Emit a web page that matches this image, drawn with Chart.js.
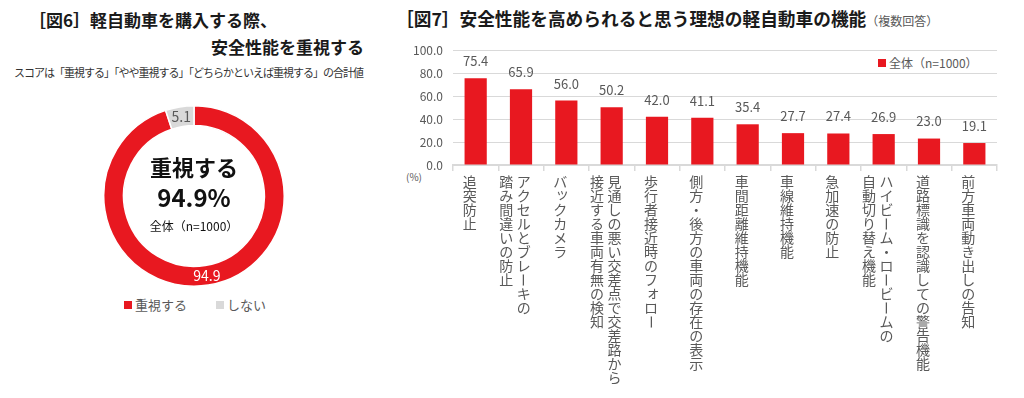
<!DOCTYPE html>
<html lang="ja">
<head>
<meta charset="utf-8">
<script src="https://cdn.jsdelivr.net/npm/chart.js@4.4.1/dist/chart.umd.min.js"></script>
<style>
  body { margin: 0; width: 1024px; height: 398px; background: #fff; position: relative; overflow: hidden;
         font-family: "Noto Sans CJK JP", sans-serif; color: #595959; }
  .t { position: absolute; white-space: nowrap; line-height: 20px; }
  .ttl { font-size: 17px; font-weight: bold; color: #1a1a1a; }
  .sq { display: inline-block; width: 8px; height: 8px; margin-right: 3px; vertical-align: 1px; }
  #ring { position: absolute; left: 103px; top: 105px; }
  #bars { position: absolute; left: 400px; top: 0; }
</style>
</head>
<body>
<!-- 図6 -->
<div class="t ttl" style="left:29px;top:10px">［図6］軽自動車を購入する際、</div>
<div class="t ttl" style="right:660px;top:37px">安全性能を重視する</div>
<div class="t" style="left:14px;top:62px;font-size:11px;letter-spacing:-1px;color:#333">スコアは「重視する」「やや重視する」「どちらかといえば重視する」の合計値</div>
<div class="t" style="left:124px;top:295px;font-size:13px"><span class="sq" style="background:#e81820"></span>重視する</div>
<div class="t" style="left:216px;top:295px;font-size:13px"><span class="sq" style="background:#d9d9d9"></span>しない</div>
<canvas id="ring" width="182" height="182"></canvas>

<!-- 図7 -->
<div class="t ttl" style="left:396px;top:8px;font-size:17.7px">［図7］安全性能を高められると思う理想の軽自動車の機能<span style="font-size:12px;font-weight:normal;color:#595959">（複数回答）</span></div>
<div class="t" style="left:878px;top:53px;font-size:12px"><span class="sq" style="background:#e81820"></span>全体（n=1000）</div>
<div class="t" style="left:406px;top:167px;font-size:10px">(%)</div>
<canvas id="bars" width="624" height="398"></canvas>

<script>
// ── data ──
const ringLabels = ['重視する', 'しない'];
const ringValues = [94.9, 5.1];
const ringColors = ['#e81820', '#d9d9d9'];

const categories = [
  ['追突防止'],
  ['アクセルとブレーキの', '踏み間違いの防止'],
  ['バックカメラ'],
  ['見通しの悪い交差点で交差路から', '接近する車両有無の検知'],
  ['歩行者接近時のフォロー'],
  ['側方・後方の車両の存在の表示'],
  ['車間距離維持機能'],
  ['車線維持機能'],
  ['急加速の防止'],
  ['ハイビーム・ロービームの', '自動切り替え機能'],
  ['道路標識を認識しての警告機能'],
  ['前方車両動き出しの告知']
];
const values = [75.4, 65.9, 56.0, 50.2, 42.0, 41.1, 35.4, 27.7, 27.4, 26.9, 23.0, 19.1];
const yTicks = [0, 20, 40, 60, 80, 100];

const FONT = '"Noto Sans CJK JP", sans-serif';
const GREY = '#595959';

// ── 図6 doughnut ──
const ringText = {
  id: 'ringText',
  afterDraw(chart) {
    const ctx = chart.ctx, a = chart.chartArea;
    const cx = (a.left + a.right) / 2, cy = (a.top + a.bottom) / 2;
    ctx.save();
    ctx.textAlign = 'center'; ctx.textBaseline = 'middle';
    ctx.fillStyle = '#111';
    ctx.font = 'bold 22px ' + FONT;
    ctx.fillText('重視する', cx, cy - 28);
    ctx.font = 'bold 24px ' + FONT;
    ctx.fillText(ringValues[0].toFixed(1) + '%', cx, cy + 2);
    ctx.font = '12px ' + FONT;
    ctx.fillText('全体（n=1000）', cx, cy + 30);
    // slice values
    ctx.font = '14px ' + FONT;
    chart.getDatasetMeta(0).data.forEach((arc, i) => {
      const p = arc.tooltipPosition();
      ctx.fillStyle = i === 0 ? '#fff' : GREY;
      ctx.fillText(ringValues[i].toFixed(1), p.x, p.y);
    });
    ctx.restore();
  }
};

new Chart(document.getElementById('ring'), {
  type: 'doughnut',
  data: {
    labels: ringLabels,
    datasets: [{ data: ringValues, backgroundColor: ringColors, borderColor: '#fff', borderWidth: 1.5 }]
  },
  options: {
    responsive: false, animation: false, cutout: '78%',
    layout: { padding: 0 },
    plugins: { legend: { display: false }, tooltip: { enabled: false } }
  },
  plugins: [ringText]
});

// ── 図7 bars ──
const barText = {
  id: 'barText',
  afterDatasetsDraw(chart) {
    const ctx = chart.ctx;
    ctx.save();
    ctx.textAlign = 'center'; ctx.textBaseline = 'middle';
    ctx.fillStyle = GREY;
    ctx.font = '13px ' + FONT;
    chart.getDatasetMeta(0).data.forEach((bar, i) => {
      ctx.fillText(values[i].toFixed(1), bar.x, bar.y - 17);
    });
    ctx.restore();
  }
};

// vertical (tategaki) category labels, first line on the right
const vLabels = {
  id: 'vLabels',
  afterDraw(chart) {
    const ctx = chart.ctx, xs = chart.scales.x;
    const top = chart.chartArea.bottom + 17;
    ctx.save();
    ctx.font = '14px ' + FONT;
    ctx.fillStyle = GREY;
    ctx.textAlign = 'center'; ctx.textBaseline = 'middle';
    categories.forEach((lines, i) => {
      const cx = xs.getPixelForValue(i) - 6;
      lines.forEach((line, j) => {
        const x = cx + ((lines.length - 1) / 2 - j) * 17.5;
        [...line].forEach((ch, k) => {
          const y = top + k * 14;
          if (ch === 'ー') {
            ctx.save(); ctx.translate(x, y); ctx.rotate(Math.PI / 2);
            ctx.fillText(ch, 0, 0); ctx.restore();
          } else if ('ッォャュョ'.includes(ch)) {
            ctx.fillText(ch, x + 2, y - 2);
          } else {
            ctx.fillText(ch, x, y);
          }
        });
      });
    });
    ctx.restore();
  }
};

new Chart(document.getElementById('bars'), {
  type: 'bar',
  data: {
    labels: categories,
    datasets: [{ label: '全体（n=1000）', data: values, backgroundColor: '#e81820',
                 barPercentage: 0.49, categoryPercentage: 1 }]
  },
  options: {
    responsive: false, animation: false,
    layout: { padding: { top: 50, right: 27, left: 0, bottom: 0 } },
    plugins: { legend: { display: false }, tooltip: { enabled: false } },
    scales: {
      y: {
        min: 0, max: 100,
        afterBuildTicks: s => { s.ticks = yTicks.map(v => ({ value: v })); },
        afterFit: s => { s.width = 53; },
        grid: { color: '#d9d9d9', drawTicks: false },
        border: { display: false },
        ticks: { padding: 10, color: GREY, font: { size: 12, family: FONT }, callback: v => v.toFixed(1) }
      },
      x: {
        afterFit: s => { s.height = 233; },
        grid: { drawOnChartArea: false, color: '#d9d9d9', tickLength: 6, lineWidth: 1.5, offset: true },
        border: { color: '#d9d9d9', width: 2 },
        ticks: { display: false }
      }
    }
  },
  plugins: [barText, vLabels]
});
</script>
</body>
</html>
